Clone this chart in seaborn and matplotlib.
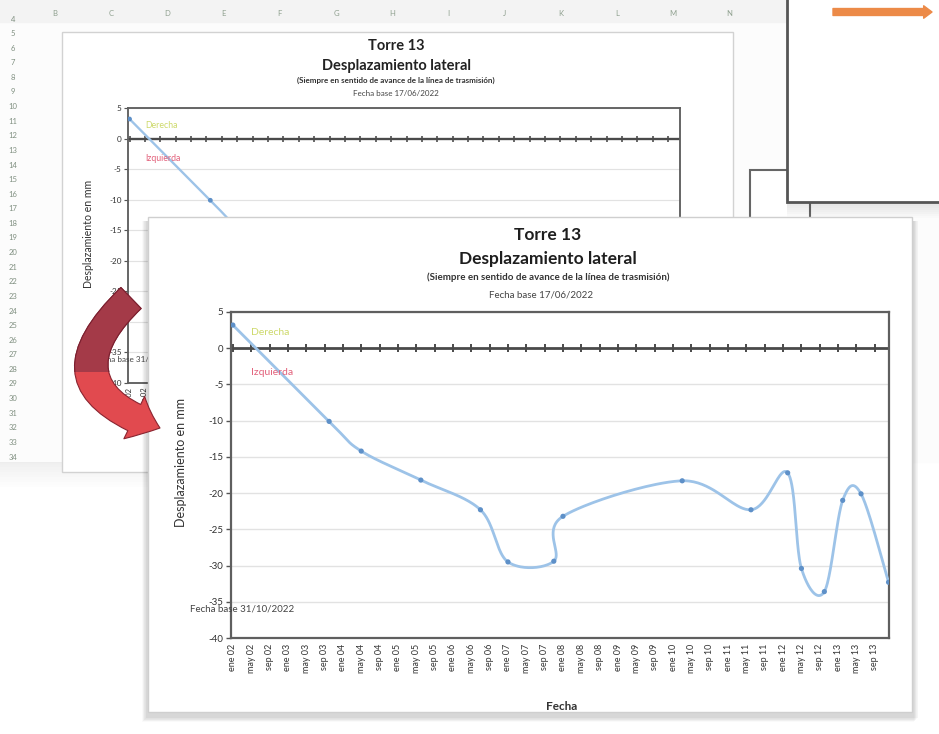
import numpy as np
import matplotlib
matplotlib.use("Agg")
import matplotlib.pyplot as plt
from matplotlib.patches import Rectangle, FancyArrowPatch
import seaborn as sns

# ---------------- datos ----------------
# meses transcurridos desde enero de 2002 y desplazamiento lateral medido (mm)
meses = [0, 21, 28, 41, 54, 60, 70, 72, 98, 113, 121, 124, 129, 133, 137, 143]
desplazamiento = [3.2, -10.1, -14.2, -18.2, -22.3, -29.5, -29.4, -23.2,
                  -18.3, -22.3, -17.2, -30.4, -33.6, -21.0, -20.1, -32.3]

meses_eje = ["ene", "may", "sep"]
anios_eje = ["02", "03", "04", "05", "06", "07", "08", "09", "10", "11", "12", "13"]
etiquetas_x = [f"{m} {a}" for a in anios_eje for m in meses_eje]
posiciones_x = [4 * i for i in range(len(etiquetas_x))]
valores_y = [5, 0, -5, -10, -15, -20, -25, -30, -35, -40]

columnas = ["B", "C", "D", "E", "F", "G", "H", "I", "J", "K", "L", "M", "N"]
filas = list(range(4, 35))

titulo = "Torre 13"
subtitulo = "Desplazamiento lateral"
nota = "(Siempre en sentido de avance de la línea de trasmisión)"
fecha_base = "Fecha base 17/06/2022"
fecha_base_2 = "Fecha base 31/10/2022"

# ---------------- estilo ----------------
sns.set_theme(style="white")
plt.rcParams["font.family"] = ["Lato", "DejaVu Sans"]

W, H = 939, 734
fig = plt.figure(figsize=(W / 100, H / 100), dpi=100, facecolor="white")


def caja(l, t, r, b):
    return [l / W, 1 - b / H, (r - l) / W, (b - t) / H]


def capa(z):
    a = fig.add_axes([0, 0, 1, 1], zorder=z)
    a.set_xlim(0, W)
    a.set_ylim(H, 0)
    a.axis("off")
    a.patch.set_alpha(0)
    return a


def curva_suave(x, y, n=40):
    """Curva Bezier cúbica por los puntos (línea suavizada estilo hoja de cálculo)."""
    P = np.column_stack([x, y]).astype(float)
    out = []
    for i in range(len(P) - 1):
        p0 = P[i - 1] if i > 0 else P[i]
        p1, p2 = P[i], P[i + 1]
        p3 = P[i + 2] if i + 2 < len(P) else P[i + 1]
        c1 = p1 + (p2 - p0) / 6
        c2 = p2 - (p3 - p1) / 6
        t = np.linspace(0, 1, n)[:, None]
        seg = (1 - t) ** 3 * p1 + 3 * (1 - t) ** 2 * t * c1 + 3 * (1 - t) * t ** 2 * c2 + t ** 3 * p2
        out.append(seg if i == 0 else seg[1:])
    s = np.vstack(out)
    return s[:, 0], s[:, 1]


cx, cy = curva_suave(meses, desplazamiento)


def grafico(ax, k, n_etiquetas=None):
    """Dibuja el gráfico de desplazamiento; k escala grosores y letras."""
    ax.set_facecolor("white")
    for v in valores_y:
        ax.axhline(v, color="#e2e2e2", lw=1.0 * k, zorder=0)
    ax.axhline(0, color="#4a4a4a", lw=2.0 * k, zorder=2)
    sns.scatterplot(x=posiciones_x, y=[0] * len(posiciones_x), marker="|", s=30 * k,
                    color="#4a4a4a", linewidth=1.4 * k, ax=ax, zorder=2, legend=False)
    sns.lineplot(x=cx, y=cy, sort=False, estimator=None, color="#9dc3e8",
                 lw=2.0 * k, ax=ax, zorder=3)
    sns.scatterplot(x=meses, y=desplazamiento, s=14 * k, color="#5e90c8",
                    edgecolor="none", ax=ax, zorder=4, legend=False)
    ax.set_xlim(-0.4, 143.1)
    ax.set_ylim(-40, 5)
    ax.set_yticks(valores_y)
    ax.set_yticklabels([str(v) for v in valores_y], fontsize=7 * k, color="#333333")
    ax.set_xticks(posiciones_x)
    etiquetas = etiquetas_x if n_etiquetas is None else (
        etiquetas_x[:n_etiquetas] + [""] * (len(etiquetas_x) - n_etiquetas))
    ax.set_xticklabels(etiquetas, rotation=90, fontsize=6.5 * k, color="#333333")
    ax.tick_params(axis="y", length=3.5 * k, width=1.0 * k, color="#555555", pad=2 * k, left=True)
    ax.tick_params(axis="x", length=0, pad=4 * k)
    ax.set_xlabel("")
    ax.set_ylabel("")
    for sp in ax.spines.values():
        sp.set_visible(True)
        sp.set_color("#5f5f5f")
        sp.set_linewidth(1.6 * k)
    ax.text(4.0, 2.2, "Derecha", color="#cdd96a", fontsize=7.5 * k, va="center", ha="left")
    ax.text(4.0, -3.3, "Izquierda", color="#e2607a", fontsize=7.5 * k, va="center", ha="left")


# ---------------- fondo: hoja de cálculo ----------------
bg = capa(0)
bg.add_patch(Rectangle((0, 0), W, 462, color="#fcfcfc", zorder=0))
bg.add_patch(Rectangle((0, 0), W, 22, color="#f3f3f3", zorder=0))
for i, c in enumerate(columnas):
    bg.text(55 + i * 56.2, 13, c, fontsize=5.5, color="#8fa08f", ha="center", va="center")
for i, f in enumerate(filas):
    bg.text(13, 19 + i * 14.6, str(f), fontsize=5.5, color="#7f8f80", ha="center", va="center")
for j in range(10):
    bg.add_patch(Rectangle((0, 462 + j * 2.5), 790, 2.5, color="#000000",
                           alpha=0.06 * (1 - j / 10), lw=0, zorder=0))

# panel del gráfico trasero
bg.add_patch(Rectangle((62, 32), 671, 440, facecolor="white", edgecolor="#d2d2d2", lw=1.0, zorder=1))
bg.text(396, 46, titulo, fontsize=10.5, fontweight="bold", ha="center", va="center", color="#222222", zorder=2)
bg.text(396, 66, subtitulo, fontsize=10.5, fontweight="bold", ha="center", va="center", color="#222222", zorder=2)
bg.text(396, 80, nota, fontsize=5.8, fontweight="bold", ha="center", va="center", color="#333333", zorder=2)
bg.text(396, 94, fecha_base, fontsize=5.8, ha="center", va="center", color="#444444", zorder=2)
bg.text(88, 234, "Desplazamiento en mm", fontsize=7.6, rotation=90, ha="center", va="center",
        color="#333333", zorder=2)

# recuadro superior derecho
bg.add_patch(Rectangle((750, 170), 60, 60, facecolor="white", edgecolor="#666666", lw=1.5, zorder=1))
for j in range(8):
    bg.add_patch(Rectangle((787, 202 + j * 2), 160, 2, color="#000000",
                           alpha=0.10 * (1 - j / 8), lw=0, zorder=2))
bg.add_patch(Rectangle((787, -5), 160, 207, facecolor="white", edgecolor="#555555", lw=2.0, zorder=3))
bg.add_patch(FancyArrowPatch((833, 12), (932, 12), arrowstyle="simple,head_length=6,head_width=9,tail_width=5",
                             mutation_scale=1, color="#ec8a48", shrinkA=0, shrinkB=0, zorder=4))

# gráfico trasero (solo asoman las primeras etiquetas de fecha)
ax_b = fig.add_axes(caja(128, 108, 680, 383), zorder=1)
grafico(ax_b, 0.84, n_etiquetas=2)

# ---------------- panel delantero ----------------
mid = capa(2)
mid.text(94, 360, fecha_base_2, fontsize=5.9, color="#444444", ha="left", va="center", zorder=1)
for j in range(8):
    mid.add_patch(Rectangle((148 - 6 + j * 0.6, 217 + 4), 912 - 148 + 8, 712 - 217 + 6 - j * 0.6,
                            color="#000000", alpha=0.018, lw=0, zorder=2))
mid.add_patch(Rectangle((148, 217), 764, 495, facecolor="white", edgecolor="#cfcfcf", lw=1.0, zorder=3))
mid.text(548, 235, titulo, fontsize=12.5, fontweight="bold", ha="center", va="center", color="#1e1e1e", zorder=4)
mid.text(548, 259, subtitulo, fontsize=12.5, fontweight="bold", ha="center", va="center", color="#1e1e1e", zorder=4)
mid.text(548, 277, nota, fontsize=7.0, fontweight="bold", ha="center", va="center", color="#333333", zorder=4)
mid.text(541, 295, fecha_base, fontsize=7.0, ha="center", va="center", color="#444444", zorder=4)
mid.text(181, 462, "Desplazamiento en mm", fontsize=9, rotation=90, ha="center", va="center",
         color="#333333", zorder=4)
mid.text(562, 707, "Fecha", fontsize=8.5, fontweight="bold", ha="center", va="center", color="#333333", zorder=4)

ax_f = fig.add_axes(caja(231, 312, 889, 638), zorder=3)
grafico(ax_f, 1.0)

# ---------------- capa superior ----------------
top = capa(4)
top.text(190, 609, fecha_base_2, fontsize=7.0, color="#444444", ha="left", va="center")

flecha = dict(posA=(131, 298), posB=(160, 428), connectionstyle="arc3,rad=0.82",
              arrowstyle="simple,head_length=20,head_width=34,tail_width=21",
              mutation_scale=1, shrinkA=0, shrinkB=0, lw=0.8, zorder=5)
f_baja = FancyArrowPatch(facecolor="#e14a4f", edgecolor="#8a2430", **flecha)
top.add_patch(f_baja)
f_alta = FancyArrowPatch(facecolor="#a43a48", edgecolor="#7a2030", **flecha)
top.add_patch(f_alta)
clip = Rectangle((0, 0), W, 372, transform=top.transData)
f_alta.set_clip_path(clip)

fig.savefig("out.png", dpi=100, facecolor=fig.get_facecolor())
